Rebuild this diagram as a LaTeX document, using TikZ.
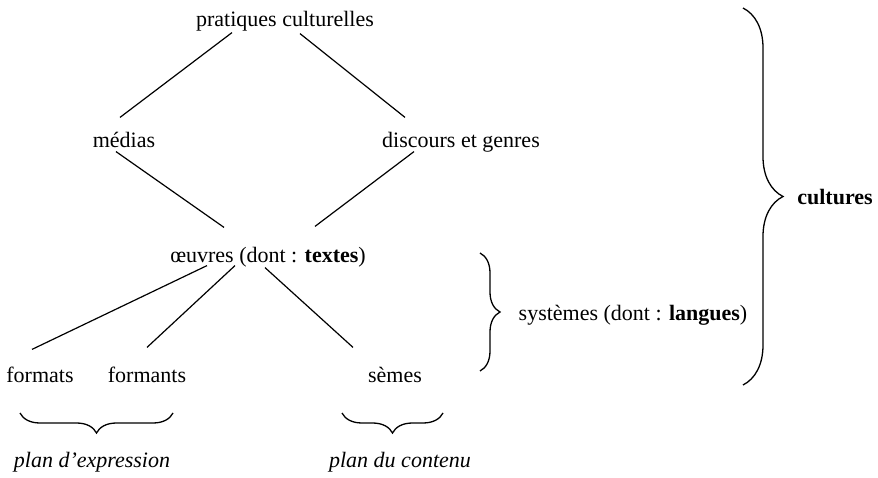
\documentclass[tikz,border=0pt]{standalone}
\usepackage{fontspec}
\setmainfont{Liberation Serif}
\usetikzlibrary{decorations.pathreplacing}
\begin{document}
\begin{tikzpicture}[x=1pt,y=-1pt,line width=1.2pt,
  font=\fontsize{22}{26}\selectfont,
  lbl/.style={anchor=base,inner sep=0pt,text height=15pt,text depth=5pt},
  brc/.style={decorate,decoration={brace,amplitude=#1},line width=1.3pt}]
\useasboundingbox (0,0) rectangle (878,478);
\node[lbl] (pc) at (285,27) {pratiques culturelles};
\node[lbl] (med) at (124,148) {médias};
\node[lbl] (disc) at (461,148) {discours et genres};
\node[lbl] (oeu) at (268,263) {œuvres (dont : \textbf{textes})};
\node[lbl] (fmt) at (40,382) {formats};
\node[lbl] (fmn) at (147,382) {formants};
\node[lbl] (sem) at (395,382) {sèmes};
\node[lbl] (pexp) at (92,467) {\itshape plan d’expression};
\node[lbl] (pcont) at (400,467) {\itshape plan du contenu};
\node[lbl] (sys) at (633,320) {systèmes (dont : \textbf{langues})};
\node[lbl] (cult) at (835,205) {\bfseries cultures};
\draw ([shift={(-53,0)}]pc.south) -- ([shift={(-4,-15)}]med.north);
\draw ([shift={(15,1)}]pc.south) -- ([shift={(-56,-15)}]disc.north);
\draw ([shift={(-8,-2)}]med.south) -- ([shift={(-44,-20)}]oeu.north);
\draw ([shift={(-47,-2)}]disc.south) -- ([shift={(47,-21)}]oeu.north);
\draw ([shift={(-61,-3)}]oeu.south) -- ([shift={(-8,-17)}]fmt.north);
\draw ([shift={(-33,-3)}]oeu.south) -- ([shift={(0,-19)}]fmn.north);
\draw ([shift={(-3,-1)}]oeu.south) -- ([shift={(-42,-19)}]sem.north);
\draw[brc=20] (173,413) -- (20,413);
\draw[brc=20] (443,413) -- (342,413);
\draw[brc=20] (480,253) -- (480,371);
\draw[brc=40] (743,8) -- (743,385);
\end{tikzpicture}
\end{document}
